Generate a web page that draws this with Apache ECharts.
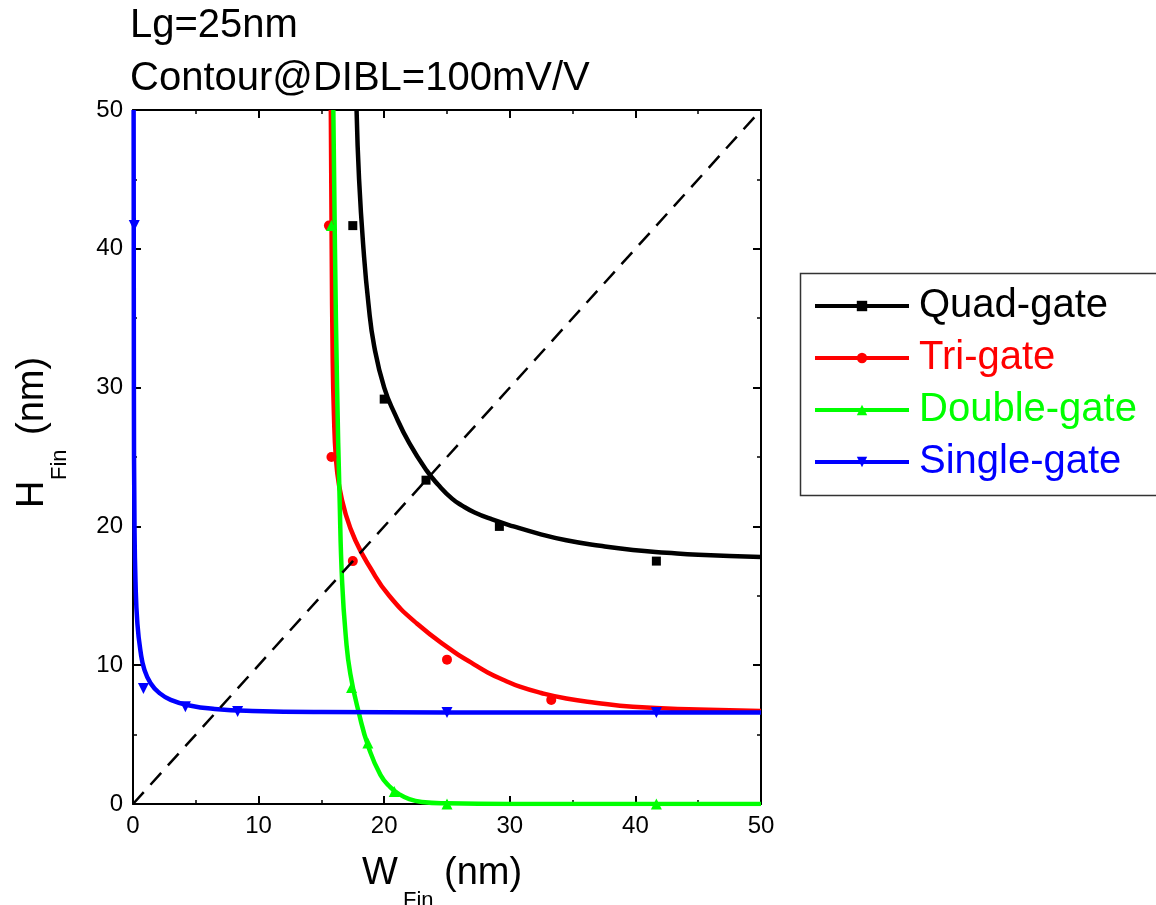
<!DOCTYPE html>
<html>
<head>
<meta charset="utf-8">
<script src="https://cdn.jsdelivr.net/npm/echarts@6/dist/echarts.min.js"></script>
<style>
html,body{margin:0;padding:0;background:#fff;}
#chart{width:1156px;height:905px;}
</style>
</head>
<body>
<div id="chart"></div>
<script>
// ---- data ----
const seriesNames = ['Quad-gate', 'Tri-gate', 'Double-gate', 'Single-gate'];
const xTicks = [0, 10, 20, 30, 40, 50];
const yTicks = [0, 10, 20, 30, 40, 50];

// simulated points (markers)
const quadW = [17.5, 20.0, 23.33, 29.17, 41.67];
const quadH = [41.67, 29.17, 23.33, 20.0, 17.5];
const triW = [15.6, 15.8, 17.5, 25.0, 33.3];
const triH = [41.67, 25.0, 17.5, 10.4, 7.5];
const dblW = [15.8, 17.4, 18.7, 20.8, 25.0, 41.67];
const dblH = [41.67, 8.4, 4.4, 0.9, 0.0, 0.0];
const sglW = [0.1, 0.83, 4.17, 8.33, 25.0, 41.67];
const sglH = [41.67, 8.33, 7.0, 6.67, 6.6, 6.6];

// fitted contour curves
const quadFitW = [17.8, 18.0, 18.35, 18.75, 19.2, 20.0, 20.9, 22.0, 23.4, 24.3, 25.4, 26.2, 27.2, 28.6, 30.3, 32.2, 34.5, 37.2, 39.8, 42.5, 45.0, 50.0];
const quadFitH = [50, 45, 40, 36, 33, 30, 28, 26, 24, 23, 22, 21.5, 21, 20.5, 20, 19.5, 19, 18.6, 18.3, 18.1, 17.95, 17.8];
const triFitW = [15.75, 15.82, 15.9, 16.0, 16.15, 16.4, 16.9, 17.7, 18.9, 20.4, 22.6, 25.5, 26.9, 28.2, 29.6, 30.8, 32.5, 34.5, 36.8, 39.8, 45.0, 50.0];
const triFitH = [50, 40, 32, 28, 25, 23, 21, 19, 17, 15, 13, 11, 10.2, 9.5, 8.9, 8.45, 8.0, 7.6, 7.3, 7.0, 6.8, 6.7];
const dblFitW = [15.95, 16.08, 16.25, 16.45, 16.65, 16.95, 17.3, 18.0, 18.75, 19.7, 20.5, 21.2, 22.0, 23.0, 25.0, 30.0, 50.0];
const dblFitH = [50, 40, 30, 22, 16, 12, 9.4, 6.5, 4.1, 2.1, 1.2, 0.7, 0.35, 0.15, 0.05, 0, 0];
const sglFitW = [0.05, 0.07, 0.12, 0.2, 0.35, 0.6, 0.9, 1.4, 2.1, 3.0, 4.5, 6.5, 9.5, 15, 25, 50];
const sglFitH = [50, 30, 20, 16, 13, 11, 9.7, 8.7, 8.0, 7.5, 7.1, 6.85, 6.7, 6.62, 6.6, 6.6];

const diagW = [0, 50];
const diagH = [0, 50];

// ---- helpers ----
const zip = (a, b) => a.map((v, i) => [v, b[i]]);
const FONT = "'Liberation Sans', Arial, sans-serif";
const colors = ['#000000', '#FF0000', '#00FF00', '#0000FF'];
const downTri = 'path://M0,0L10,0L5,9Z';
const symbols = ['rect', 'circle', 'triangle', downTri];
const symSizes = [9, 10, 11, 11];

const fits = [[quadFitW, quadFitH], [triFitW, triFitH], [dblFitW, dblFitH], [sglFitW, sglFitH]];
const pts = [[quadW, quadH], [triW, triH], [dblW, dblH], [sglW, sglH]];

const series = [];
series.push({
  type: 'line', name: 'diag', data: zip(diagW, diagH), showSymbol: false, symbol: 'none',
  lineStyle: { color: '#000', width: 2.5, type: [16, 10] }, z: 5, silent: true
});
fits.forEach((f, i) => {
  series.push({
    type: 'line', name: seriesNames[i], data: zip(f[0], f[1]),
    smooth: 0.5, showSymbol: false, symbol: symbols[i], symbolSize: symSizes[i],
    itemStyle: { color: colors[i], opacity: 1 },
    lineStyle: { color: colors[i], width: 4.5 }, z: 3 + i * 0.1
  });
});
pts.forEach((p, i) => {
  series.push({
    type: 'scatter', name: seriesNames[i] + ' pts', data: zip(p[0], p[1]),
    symbol: symbols[i], symbolSize: symSizes[i],
    itemStyle: { color: colors[i], opacity: 1 }, z: 4
  });
});

const axisCommon = {
  min: 0, max: 50, interval: 10,
  axisLine: { show: true, onZero: false, lineStyle: { color: '#000', width: 2 } },
  axisTick: { show: true, inside: true, length: 8, lineStyle: { color: '#000', width: 2 } },
  minorTick: { show: true, splitNumber: 2, length: 4, lineStyle: { color: '#000', width: 1.5 } },
  splitLine: { show: false },
  minorSplitLine: { show: false }
};

const chart = echarts.init(document.getElementById('chart'), null, { renderer: 'canvas' });
chart.setOption({
  animation: false,
  backgroundColor: '#fff',
  grid: { left: 133, top: 110, width: 628, height: 694, containLabel: false },
  xAxis: [
    Object.assign({}, axisCommon, {
      type: 'value', position: 'bottom',
      axisLabel: { show: true, margin: 10, fontSize: 24, color: '#000', fontFamily: FONT,
        formatter: v => (xTicks.indexOf(v) >= 0 ? String(v) : '') }
    }),
    Object.assign({}, axisCommon, {
      type: 'value', position: 'top', axisLabel: { show: false }
    })
  ],
  yAxis: [
    Object.assign({}, axisCommon, {
      type: 'value', position: 'left',
      axisLabel: { show: true, margin: 10, fontSize: 24, color: '#000', fontFamily: FONT,
        formatter: v => (yTicks.indexOf(v) >= 0 ? String(v) : '') }
    }),
    Object.assign({}, axisCommon, {
      type: 'value', position: 'right', axisLabel: { show: false }
    })
  ],
  legend: {
    orient: 'vertical', left: 813, top: 286, padding: 0,
    itemWidth: 94, itemHeight: 13, itemGap: 12,
    selectedMode: false,
    lineStyle: { width: 4 },
    itemStyle: { opacity: 1 },
    textStyle: { fontSize: 40, fontFamily: FONT, padding: [0, 0, 0, 5] },
    data: seriesNames.map((n, i) => ({ name: n, textStyle: { color: colors[i] } }))
  },
  graphic: [
    { type: 'rect', left: 798, top: 271, z: 0,
      shape: { width: 357, height: 222 }, style: { fill: 'none', stroke: '#333', lineWidth: 1.5 } },
    { type: 'text', x: 130, y: 26, style: { text: 'Lg=25nm', font: '40px ' + FONT, fill: '#000', verticalAlign: 'middle' } },
    { type: 'text', x: 130, y: 79, style: { text: 'Contour@DIBL=100mV/V', font: '40px ' + FONT, fill: '#000', verticalAlign: 'middle' } },
    { type: 'text', x: 362, y: 874, style: { text: 'W', font: '38px ' + FONT, fill: '#000', verticalAlign: 'middle' } },
    { type: 'text', x: 403, y: 901, style: { text: 'Fin', font: '22px ' + FONT, fill: '#000', verticalAlign: 'middle' } },
    { type: 'text', x: 444, y: 874, style: { text: '(nm)', font: '38px ' + FONT, fill: '#000', verticalAlign: 'middle' } },
    { type: 'group', x: 0, y: 508, rotation: Math.PI / 2, children: [
      { type: 'text', x: 0, y: 32.7, style: { text: 'H', font: '38px ' + FONT, fill: '#000', verticalAlign: 'middle' } },
      { type: 'text', x: 28, y: 60, style: { text: 'Fin', font: '22px ' + FONT, fill: '#000', verticalAlign: 'middle' } },
      { type: 'text', x: 73, y: 32.7, style: { text: '(nm)', font: '38px ' + FONT, fill: '#000', verticalAlign: 'middle' } }
    ]}
  ],
  series: series
});
</script>
</body>
</html>
